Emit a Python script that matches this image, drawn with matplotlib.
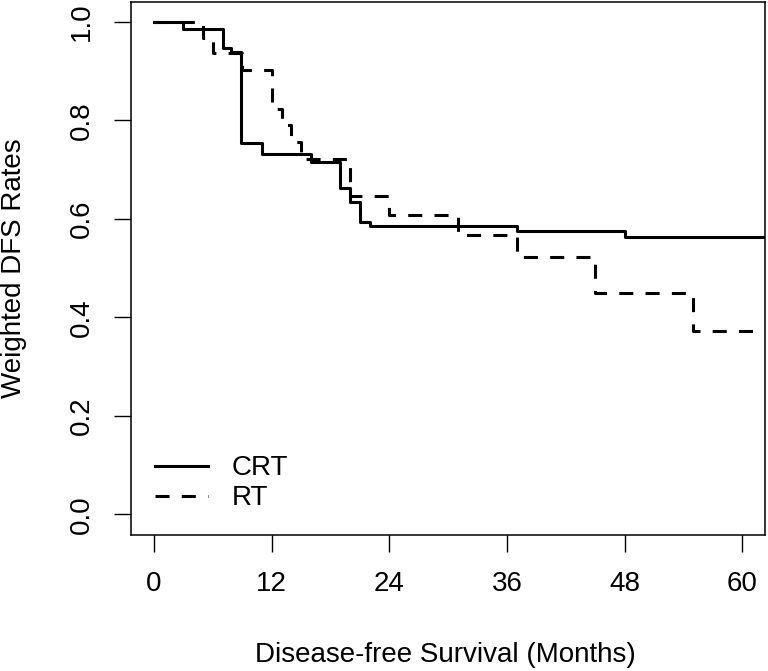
import numpy as np
import matplotlib
matplotlib.use('Agg')
import matplotlib.pyplot as plt

plt.rcParams['font.family'] = ['Liberation Sans', 'DejaVu Sans']

# step curves (time in months, weighted DFS rate)
crt_time = [0, 3, 7, 7.8, 8.9, 11, 16, 19, 20, 21, 22, 37, 48, 66]
crt_rate = [1.0, 0.986, 0.947, 0.939, 0.753, 0.732, 0.715, 0.663, 0.635, 0.593, 0.585, 0.575, 0.562, 0.562]

rt_time = [0, 5, 6, 9, 12, 13, 14, 15, 20, 24, 31, 37, 45, 55, 66]
rt_rate = [1.0, 0.967, 0.936, 0.902, 0.822, 0.79, 0.755, 0.722, 0.646, 0.608, 0.566, 0.523, 0.449, 0.373, 0.373]

x_ticks = [0, 12, 24, 36, 48, 60]
y_ticks = [0.0, 0.2, 0.4, 0.6, 0.8, 1.0]

fig = plt.figure(figsize=(7.68, 6.71), dpi=100)
ax = fig.add_axes([131 / 768, 1 - 535 / 671, (765 - 131) / 768, (535 - 2) / 671])

ax.step(crt_time, crt_rate, where='post', color='black', lw=2.2, label='CRT')
ax.step(rt_time, rt_rate, where='post', color='black', lw=2.2,
        linestyle=(0, (4.6, 4.0)), dash_capstyle='butt', label='RT')

ax.set_xlim(-2.35, 62.3)
ax.set_ylim(-0.042, 1.04)
ax.set_xticks(x_ticks)
ax.set_yticks(y_ticks)
ax.set_xticklabels([str(t) for t in x_ticks])
ax.set_yticklabels(['%.1f' % v for v in y_ticks])

for sp in ax.spines.values():
    sp.set_linewidth(1.1)
ax.tick_params(direction='out', length=12, width=1.0, pad=14, labelsize=20)
for lab in ax.get_yticklabels():
    lab.set_rotation(90)
    lab.set_va('center')

fig.text(445 / 768, 1 - 655 / 671, 'Disease-free Survival (Months)', ha='center', va='center', fontsize=20)
fig.text(14 / 768, 1 - 268 / 671, 'Weighted DFS Rates', ha='center', va='center', rotation=90, fontsize=20)

ax.legend(loc='lower left', bbox_to_anchor=(-0.006, -0.008), frameon=False, fontsize=20,
          handlelength=1.9, handletextpad=0.85, labelspacing=0.15, borderaxespad=0.6)

fig.savefig('out.png', dpi=100)
